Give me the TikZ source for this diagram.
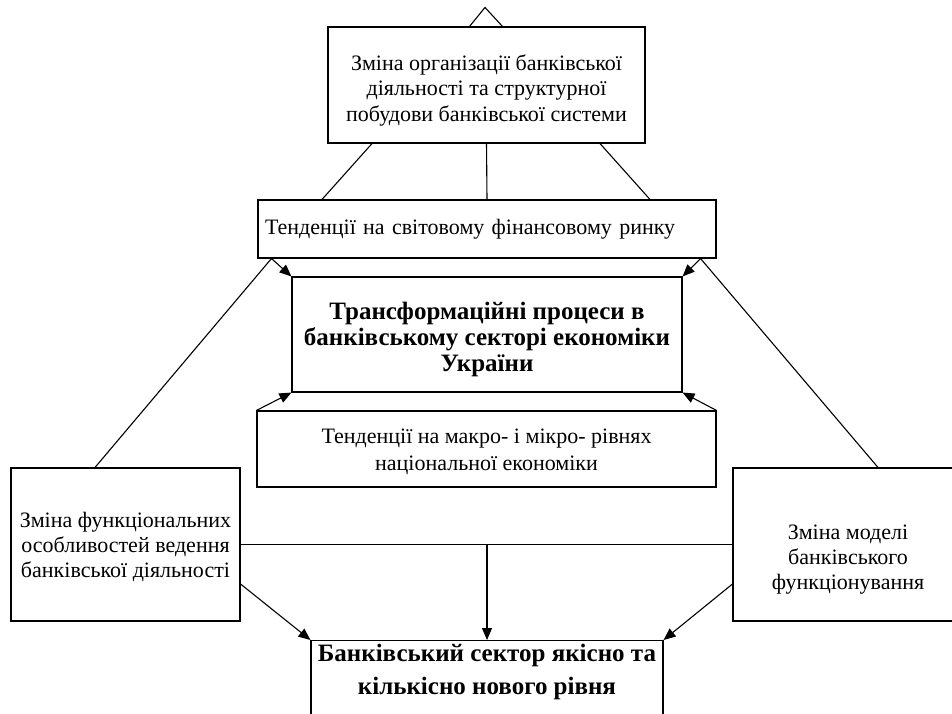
\documentclass[tikz,border=0pt]{standalone}
\usepackage{fontspec}
\setmainfont{Liberation Serif}
\usetikzlibrary{arrows.meta}
\begin{document}
\begin{tikzpicture}[x=1pt,y=-1pt,
  box/.style={draw, line width=1.1pt, inner sep=0pt, align=center, font=\fontsize{22}{25.5}\selectfont},
  txt/.style={inner sep=0pt, align=center, font=\fontsize{22}{25}\selectfont},
  bld/.style={inner sep=0pt, align=center, font=\fontsize{25}{26}\selectfont\bfseries},
  ln/.style={line width=1.1pt},
  arr/.style={line width=1.1pt, -{Triangle[length=12pt,width=10pt]}}]
\clip (0,0) rectangle (952,713);
\fill[white] (0,0) rectangle (952,713);
% boxes
\node[box, minimum width=317pt, minimum height=116pt] (top) at (486.5,85) {};
\node[txt, font=\fontsize{22}{25.5}\selectfont] (topT) at (486.5,90)
  {Зміна організації банківської\\ діяльності та структурної\\ побудови банківської системи};
\node[box, minimum width=458pt, minimum height=58pt, text width=444pt, align=left] (tend) at (487,229)
  {Тенденції на світовому фінансовому ринку};
\node[box, minimum width=390pt, minimum height=115pt] (center) at (487,334.5) {};
\node[bld] (centerT) at (487,339) {Трансформаційні процеси в\\ банківському секторі економіки\\ України};
\node[box, minimum width=459pt, minimum height=76pt] (macro) at (486.5,449) {};
\node[txt, font=\fontsize{22}{27}\selectfont] (macroT) at (486.5,451.5)
  {Тенденції на макро- і мікро- рівнях\\ національної економіки};
\node[box, minimum width=229pt, minimum height=153pt] (left) at (125.5,544.5) {};
\node[txt] (leftT) at (125.5,547)
  {Зміна функціональних\\ особливостей ведення\\ банківської діяльності};
\node[box, minimum width=230pt, minimum height=153pt] (right) at (848,544.5) {};
\node[txt] (rightT) at (848,560) {Зміна моделі\\ банківського\\ функціонування};
\node[box, minimum width=352pt, minimum height=140pt, anchor=north] (bottom) at (487,640) {};
\node[bld, font=\fontsize{25}{33}\selectfont\bfseries] (bottomT) at (487,671.5) {Банківський сектор якісно та\\ кількісно нового рівня};
% triangle on top
\draw[ln] ([xshift=-17pt]top.north) -- ([xshift=-1.5pt,yshift=19pt]top.north) -- ([xshift=16pt]top.north);
% top to tendencies
\draw[ln] ([xshift=-114.5pt]top.south) -- ([xshift=-165pt]tend.north);
\draw[ln] (top.south) -- (tend.north);
\draw[ln] ([xshift=113.5pt]top.south) -- ([xshift=163pt]tend.north);
% tendencies to center
\coordinate (tl) at ([xshift=14pt]tend.south west);
\coordinate (tr) at ([xshift=-16pt]tend.south east);
\draw[arr] (tl) -- (center.north west);
\draw[arr] (tr) -- (center.north east);
\draw[ln] (tl) -- ([xshift=-30.5pt]left.north);
\draw[ln] (tr) -- ([xshift=30pt]right.north);
% macro to center
\draw[arr] (macro.north west) -- (center.south west);
\draw[arr] (macro.north east) -- (center.south east);
% horizontal and down
\draw[ln] (left.east) -- (right.west);
\coordinate (mid) at (bottom.north |- left.east);
\draw[arr] (mid) -- (bottom.north);
\draw[arr] ([yshift=-39.5pt]left.east) -- (bottom.north west);
\draw[arr] ([yshift=-39.5pt]right.west) -- (bottom.north east);
\end{tikzpicture}
\end{document}
